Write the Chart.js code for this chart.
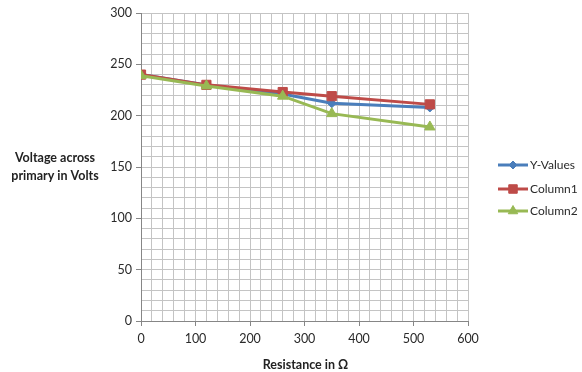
<!DOCTYPE html>
<html lang="en">

<head>
    <meta charset="UTF-8">
    <title>Voltage vs Resistance</title>
    <script src="https://cdn.jsdelivr.net/npm/chart.js"></script>
    <style>
        html, body { margin: 0; padding: 0; background: #fff; }
        #box { width: 582px; height: 372px; }
    </style>
</head>

<body>
    <div id="box"><canvas id="grafico" width="582" height="372"></canvas></div>

<script>
    // dados
    const resistencias = [0, 120, 260, 350, 530];
    const yValues = [240, 230, 221, 212, 208];
    const column1 = [240, 230, 223, 219, 211];
    const column2 = [239, 229, 219, 202, 189];
    const nomesSeries = ['Y-Values', 'Column1', 'Column2'];
    const ticksX = [0, 100, 200, 300, 400, 500, 600];
    const ticksY = [0, 50, 100, 150, 200, 250, 300];

    const cores = ['#4a7ebb', '#be4b48', '#98b954'];
    const marcadores = ['rectRot', 'rect', 'triangle'];
    const raios = [4.5, 6.5, 6];
    const fonte = "Lato, 'Open Sans', sans-serif";

    function pontos(valores) {
        return resistencias.map((x, i) => ({ x: x, y: valores[i] }));
    }

    const series = [yValues, column1, column2];

    const datasets = series.map((vals, i) => ({
        label: nomesSeries[i],
        data: pontos(vals),
        borderColor: cores[i],
        backgroundColor: cores[i],
        borderWidth: 3,
        pointStyle: marcadores[i],
        pointRadius: raios[i],
        pointBorderWidth: 1,
        showLine: true,
        tension: 0,
        order: 3 - i
    }));

    // titulos e legenda desenhados a mao
    const extras = {
        id: 'extras',
        afterDraw(chart) {
            const ctx = chart.ctx;
            const area = chart.chartArea;
            ctx.save();
            ctx.fillStyle = '#222';
            ctx.textAlign = 'center';
            ctx.textBaseline = 'middle';
            ctx.font = "bold 12.5px " + fonte;
            ctx.fillText('Voltage across', 55, 158);
            ctx.fillText('primary in Volts', 55, 176);
            ctx.fillText('Resistance in \u03A9', (area.left + area.right) / 2 + 1, 365);

            // legenda
            const ys = [165, 189, 211];
            nomesSeries.forEach((nome, i) => {
                const y = ys[i];
                ctx.strokeStyle = cores[i];
                ctx.lineWidth = 3;
                ctx.beginPath();
                ctx.moveTo(498, y);
                ctx.lineTo(528, y);
                ctx.stroke();
                ctx.fillStyle = cores[i];
                ctx.lineWidth = 1;
                Chart.helpers.drawPoint(ctx, {
                    pointStyle: marcadores[i],
                    radius: raios[i] - 0.5,
                    borderWidth: 1,
                    rotation: 0
                }, 513, y);
                ctx.fillStyle = '#2a2a2a';
                ctx.textAlign = 'left';
                ctx.font = "12px " + fonte;
                ctx.fillText(nome, 530, y);
            });
            ctx.restore();
        }
    };

    new Chart(document.getElementById('grafico'), {
        type: 'scatter',
        data: { datasets: datasets },
        plugins: [extras],
        options: {
            responsive: false,
            animation: false,
            layout: { padding: { top: 13, right: 114, left: 0, bottom: 0 } },
            plugins: {
                legend: { display: false },
                tooltip: { enabled: false }
            },
            scales: {
                x: {
                    type: 'linear',
                    min: 0,
                    max: 600,
                    afterFit: s => { s.height = 51; },
                    afterBuildTicks: s => {
                        s.ticks = [];
                        for (let v = 0; v <= 600; v += 20) s.ticks.push({ value: v });
                    },
                    ticks: {
                        autoSkip: false,
                        maxRotation: 0,
                        color: '#2a2a2a',
                        font: { family: fonte, size: 12.5 },
                        padding: 5,
                        callback: v => ticksX.includes(v) ? v : ''
                    },
                    grid: {
                        color: c => c.tick && c.tick.value === 0 ? '#868686' : '#c4c4c4',
                        tickColor: c => c.tick && ticksX.includes(c.tick.value) ? '#868686' : 'rgba(0,0,0,0)',
                        tickLength: 5
                    },
                    border: { color: '#868686' }
                },
                y: {
                    min: 0,
                    max: 300,
                    afterFit: s => { s.width = 141; },
                    afterBuildTicks: s => {
                        s.ticks = [];
                        for (let v = 0; v <= 300; v += 10) s.ticks.push({ value: v });
                    },
                    ticks: {
                        autoSkip: false,
                        color: '#2a2a2a',
                        font: { family: fonte, size: 12.5 },
                        padding: 4,
                        callback: v => ticksY.includes(v) ? v : ''
                    },
                    grid: {
                        color: c => c.tick && c.tick.value === 0 ? '#868686' : '#c4c4c4',
                        tickColor: c => c.tick && ticksY.includes(c.tick.value) ? '#868686' : 'rgba(0,0,0,0)',
                        tickLength: 5
                    },
                    border: { color: '#868686' }
                }
            }
        }
    });
</script>
</body>

</html>
